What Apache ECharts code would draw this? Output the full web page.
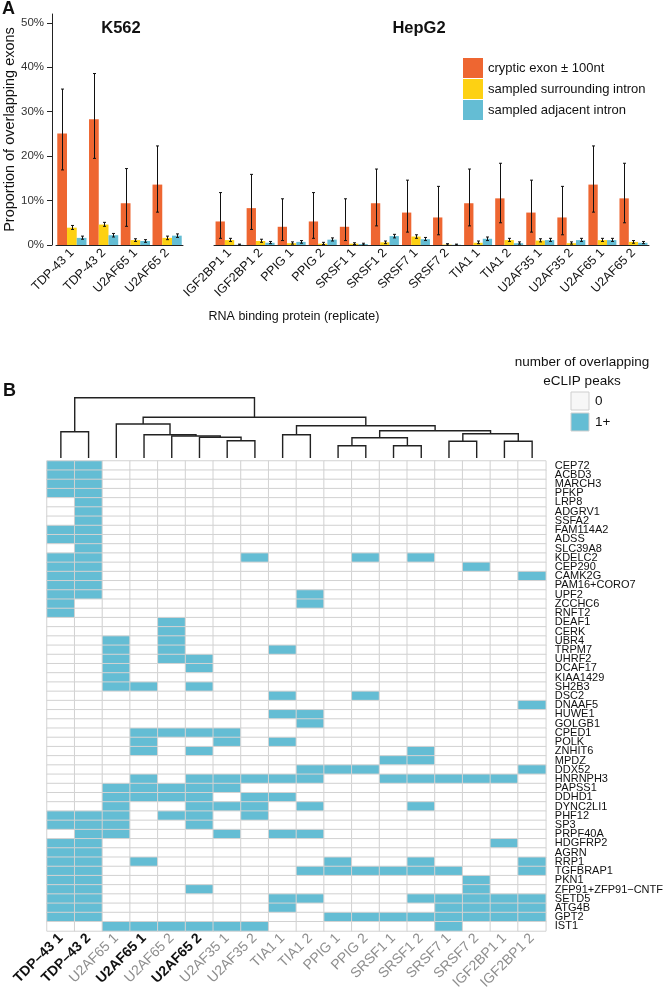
<!DOCTYPE html>
<html>
<head>
<meta charset="utf-8">
<script src="https://cdn.jsdelivr.net/npm/echarts@6/dist/echarts.min.js"></script>
<style>html,body{margin:0;padding:0;background:#fff}#main{width:666px;height:992px}</style>
</head>
<body>
<div id="main"></div>
<script>
// panel A: proportion of cryptic exons overlapping eCLIP peaks (%)
var k562Names = ['TDP-43 1', 'TDP-43 2', 'U2AF65 1', 'U2AF65 2'];
var k562Cryptic = [25.1, 28.3, 9.4, 13.6];
var k562CrypticLo = [16.9, 19.5, 4.2, 7.4];
var k562CrypticHi = [35.1, 38.6, 17.2, 22.3];
var k562Surround = [3.9, 4.6, 1.1, 1.6];
var k562SurroundLo = [3.5, 4.2, 0.8, 1.2];
var k562SurroundHi = [4.4, 5.1, 1.4, 2.0];
var k562Adjacent = [1.6, 2.2, 0.9, 2.1];
var k562AdjacentLo = [1.3, 1.8, 0.6, 1.7];
var k562AdjacentHi = [2.0, 2.6, 1.2, 2.5];

var hepg2Names = ['IGF2BP1 1', 'IGF2BP1 2', 'PPIG 1', 'PPIG 2', 'SRSF1 1', 'SRSF1 2', 'SRSF7 1', 'SRSF7 2',
                  'TIA1 1', 'TIA1 2', 'U2AF35 1', 'U2AF35 2', 'U2AF65 1', 'U2AF65 2'];
var hepg2Cryptic = [5.3, 8.3, 4.1, 5.3, 4.1, 9.4, 7.3, 6.2, 9.4, 10.5, 7.3, 6.2, 13.6, 10.5];
var hepg2CrypticLo = [1.5, 3.5, 1.0, 1.5, 1.0, 4.3, 2.9, 2.3, 4.3, 5.0, 2.9, 2.3, 7.4, 5.0];
var hepg2CrypticHi = [11.8, 15.9, 10.4, 11.8, 10.4, 17.1, 14.6, 13.2, 17.1, 18.4, 14.6, 13.2, 22.3, 18.4];
var hepg2Surround = [1.1, 0.9, 0.4, 0.3, 0.3, 0.6, 1.9, 0.1, 0.5, 1.1, 1.0, 0.4, 1.1, 0.7];
var hepg2SurroundLo = [0.8, 0.6, 0.2, 0.1, 0.1, 0.3, 1.5, 0, 0.3, 0.8, 0.7, 0.2, 0.8, 0.4];
var hepg2SurroundHi = [1.5, 1.3, 0.7, 0.6, 0.5, 0.9, 2.3, 0.3, 0.9, 1.5, 1.4, 0.7, 1.5, 1.0];
var hepg2Adjacent = [0.05, 0.5, 0.7, 1.2, 0.2, 2.0, 1.3, 0.05, 1.4, 0.4, 1.1, 1.1, 1.1, 0.5];
var hepg2AdjacentLo = [0, 0.3, 0.4, 0.9, 0, 1.6, 1.0, 0, 1.0, 0.2, 0.8, 0.8, 0.8, 0.3];
var hepg2AdjacentHi = [0.2, 0.8, 1.0, 1.6, 0.4, 2.4, 1.7, 0.2, 1.8, 0.7, 1.5, 1.5, 1.5, 0.8];

var seriesNames = ['cryptic exon \u00b1 100nt', 'sampled surrounding intron', 'sampled adjacent intron'];
var yTicks = [0, 10, 20, 30, 40, 50];

// panel B: eCLIP peak overlap per gene (row) and experiment (column)
var heatCols = ['TDP\u201343 1', 'TDP\u201343 2', 'U2AF65 1', 'U2AF65 1', 'U2AF65 2', 'U2AF65 2', 'U2AF35 1', 'U2AF35 2',
                'TIA1 1', 'TIA1 2', 'PPIG 1', 'PPIG 2', 'SRSF1 1', 'SRSF1 2', 'SRSF7 1', 'SRSF7 2', 'IGF2BP1 1', 'IGF2BP1 2'];
var heatColCell = ['K562', 'K562', 'HepG2', 'K562', 'HepG2', 'K562', 'HepG2', 'HepG2', 'HepG2',
                   'HepG2', 'HepG2', 'HepG2', 'HepG2', 'HepG2', 'HepG2', 'HepG2', 'HepG2', 'HepG2'];
var heatRows = ['CEP72', 'ACBD3', 'MARCH3', 'PFKP', 'LRP8', 'ADGRV1', 'SSFA2', 'FAM114A2', 'ADSS', 'SLC39A8',
                'KDELC2', 'CEP290', 'CAMK2G', 'PAM16+CORO7', 'UPF2', 'ZCCHC6', 'RNFT2', 'DEAF1', 'CERK', 'UBR4',
                'TRPM7', 'UHRF2', 'DCAF17', 'KIAA1429', 'SH2B3', 'DSC2', 'DNAAF5', 'HUWE1', 'GOLGB1', 'CPED1',
                'POLK', 'ZNHIT6', 'MPDZ', 'DDX52', 'HNRNPH3', 'PAPSS1', 'DDHD1', 'DYNC2LI1', 'PHF12', 'SP3',
                'PRPF40A', 'HDGFRP2', 'AGRN', 'RRP1', 'TGFBRAP1', 'PKN1', 'ZFP91+ZFP91\u2212CNTF', 'SETD5', 'ATG4B', 'GPT2',
                'IST1'];
// columns with 1+ peaks for each row
var heatHits = [
  [0, 1], [0, 1], [0, 1], [0, 1], [1], [1], [1], [0, 1], [0, 1], [1],
  [0, 1, 7, 11, 13], [0, 1, 15], [0, 1, 17], [0, 1], [0, 1, 9], [0, 9], [0], [4], [4], [2, 4],
  [2, 4, 8], [2, 4, 5], [2, 5], [2], [2, 3, 5], [8, 11], [17], [8, 9], [9], [3, 4, 5, 6],
  [3, 6, 8], [3, 5, 13], [12, 13], [9, 10, 11, 17], [3, 5, 6, 7, 8, 9, 12, 13, 14, 15, 16], [2, 3, 4, 5, 6],
  [2, 3, 4, 5, 7, 8], [2, 5, 6, 7, 9, 13], [0, 1, 2, 4, 5, 7], [0, 1, 2, 5],
  [1, 2, 6, 8, 9], [0, 1, 16], [0, 1], [0, 1, 3, 10, 13, 17], [0, 1, 9, 10, 11, 12, 13, 14, 17], [0, 1, 15],
  [0, 1, 5, 15], [0, 1, 8, 9, 13, 14, 15, 16, 17], [0, 1, 8, 14, 15, 16, 17], [0, 1, 10, 11, 12, 13, 14, 15, 16, 17],
  [2, 3, 4, 5, 6, 7, 14]
];
// column dendrogram: [child a, child b, height]; leaves 0-17, merge j is node 18+j
var dendroMerges = [
  [0, 1, 26.3], [6, 7, 17.3], [5, 19, 20.7], [4, 20, 22], [3, 21, 23.3], [2, 22, 34],
  [8, 9, 23.3], [10, 11, 12.3], [12, 13, 12.3], [25, 26, 20.3], [14, 15, 16.7], [16, 17, 16.7],
  [28, 29, 24.3], [27, 30, 27.3], [24, 31, 32.3], [23, 32, 40.7], [18, 33, 60.3]
];

var myChart = echarts.init(document.getElementById('main'));
var FONT = 'Liberation Sans';
var colors = ['#ee6631', '#fdd113', '#64bdd4'];
var heatBlue = '#64bdd4';
var gapK = 0.08, gapH = 0.1;

function errSeries(k, lo, hi, gi, gap) {
    return {
        type: 'custom', xAxisIndex: gi, yAxisIndex: gi, z: 5, silent: true,
        data: lo.map(function(v, i) { return [i, v, hi[i]]; }),
        encode: { x: 0, y: [1, 2] },
        renderItem: function(params, api) {
            var c = api.coord([api.value(0), 0]);
            var band = api.size([1, 0])[0];
            var bw = band * (1 - gap) / 3;
            var cx = Math.round(c[0] + (k - 1) * bw) + 0.5;
            var y1 = api.coord([api.value(0), api.value(1)])[1];
            var y2 = api.coord([api.value(0), api.value(2)])[1];
            var st = { stroke: '#111', lineWidth: 1 };
            return { type: 'group', children: [
                { type: 'line', shape: { x1: cx, y1: y1, x2: cx, y2: y2 }, style: st },
                { type: 'line', shape: { x1: cx - 1.5, y1: y1, x2: cx + 1.5, y2: y1 }, style: st },
                { type: 'line', shape: { x1: cx - 1.5, y1: y2, x2: cx + 1.5, y2: y2 }, style: st }
            ]};
        }
    };
}

function barSeries(k, data, gi, gap) {
    return {
        name: seriesNames[k], type: 'bar', xAxisIndex: gi, yAxisIndex: gi, data: data,
        itemStyle: { color: colors[k] }, barGap: '0%', barCategoryGap: (gap * 100) + '%'
    };
}

var heatData = [];
heatRows.forEach(function(r, ri) {
    for (var c = 0; c < heatCols.length; c++) {
        heatData.push([c, ri, heatHits[ri].indexOf(c) >= 0 ? 1 : 0]);
    }
});

var nodeX = [], nodeH = [];
for (var i = 0; i < heatCols.length; i++) { nodeX[i] = i; nodeH[i] = 0; }
var dendroData = dendroMerges.map(function(m, j) {
    var a = m[0], b = m[1];
    var d = [nodeX[a], nodeX[b], nodeH[a], nodeH[b], m[2]];
    nodeX[heatCols.length + j] = (nodeX[a] + nodeX[b]) / 2;
    nodeH[heatCols.length + j] = m[2];
    return d;
});

var catAxis = function(gi, names) {
    return {
        type: 'category', gridIndex: gi, data: names,
        axisLine: { lineStyle: { color: '#222', width: 1 } },
        axisTick: { alignWithLabel: true, length: 4, lineStyle: { color: '#222' } },
        axisLabel: { rotate: 45, interval: 0, fontSize: 12.5, fontFamily: FONT, color: '#111', margin: 6 }
    };
};

function txt(x, y, s, size, weight, align) {
    return { type: 'text', x: x, y: y, style: {
        text: s, fontSize: size, fontWeight: weight || 'normal', fontFamily: FONT, fill: '#111',
        align: align || 'left', verticalAlign: 'middle', textAlign: align || 'left', textVerticalAlign: 'middle' } };
}

option = {
    animation: false,
    textStyle: { fontFamily: FONT },
    legend: {
        data: seriesNames, orient: 'vertical', left: 463, top: 58, padding: 0,
        itemWidth: 20, itemHeight: 20, itemGap: 1, icon: 'rect',
        textStyle: { fontSize: 13, color: '#111', fontFamily: FONT }
    },
    grid: [
        { left: 56, width: 127, top: 14, height: 231 },
        { left: 214, width: 435, top: 14, height: 231 },
        { left: 47, width: 499, top: 461, height: 471.3 },
        { left: 47, width: 499, top: 397.7, height: 60.3 }
    ],
    xAxis: [
        catAxis(0, k562Names),
        catAxis(1, hepg2Names),
        {
            type: 'category', gridIndex: 2, data: heatCols.map(function(c, i) { return 'c' + i; }),
            axisLine: { show: false }, axisTick: { show: false }, splitLine: { show: false },
            axisLabel: {
                rotate: 45, interval: 0, margin: 5,
                formatter: function(v, i) { return (heatColCell[i] === 'K562' ? '{k|' : '{h|') + heatCols[i] + '}'; },
                rich: {
                    k: { fontSize: 14, fontWeight: 'bold', color: '#111', fontFamily: FONT },
                    h: { fontSize: 14, color: '#8e8e8e', fontFamily: FONT }
                }
            }
        },
        { type: 'value', gridIndex: 3, min: -0.5, max: 17.5, show: false }
    ],
    yAxis: [
        {
            type: 'value', gridIndex: 0, min: 0, max: 52, interval: 10, offset: 4,
            splitLine: { show: false },
            axisLine: { show: true, lineStyle: { color: '#222' } },
            axisTick: { show: true, length: 5, customValues: yTicks, lineStyle: { color: '#222' } },
            axisLabel: { customValues: yTicks, formatter: '{value}%', fontSize: 11.5, color: '#333', margin: 8, fontFamily: FONT },
            name: 'Proportion of overlapping exons', nameLocation: 'middle', nameGap: 27,
            nameTextStyle: { fontSize: 14.5, color: '#111', fontFamily: FONT }
        },
        { type: 'value', gridIndex: 1, min: 0, max: 52, show: false },
        {
            type: 'category', gridIndex: 2, data: heatRows, inverse: true, position: 'right',
            axisLine: { show: false }, axisTick: { show: false }, splitLine: { show: false },
            axisLabel: { interval: 0, fontSize: 11, color: '#111', margin: 9, fontFamily: FONT }
        },
        { type: 'value', gridIndex: 3, min: 0, max: 60.3, show: false }
    ],
    visualMap: {
        type: 'piecewise', show: false, seriesIndex: 12, dimension: 2,
        pieces: [{ value: 0, color: '#ffffff' }, { value: 1, color: heatBlue }]
    },
    series: [
        barSeries(0, k562Cryptic, 0, gapK), barSeries(1, k562Surround, 0, gapK), barSeries(2, k562Adjacent, 0, gapK),
        barSeries(0, hepg2Cryptic, 1, gapH), barSeries(1, hepg2Surround, 1, gapH), barSeries(2, hepg2Adjacent, 1, gapH),
        errSeries(0, k562CrypticLo, k562CrypticHi, 0, gapK),
        errSeries(1, k562SurroundLo, k562SurroundHi, 0, gapK),
        errSeries(2, k562AdjacentLo, k562AdjacentHi, 0, gapK),
        errSeries(0, hepg2CrypticLo, hepg2CrypticHi, 1, gapH),
        errSeries(1, hepg2SurroundLo, hepg2SurroundHi, 1, gapH),
        errSeries(2, hepg2AdjacentLo, hepg2AdjacentHi, 1, gapH),
        {
            type: 'heatmap', xAxisIndex: 2, yAxisIndex: 2, data: heatData,
            itemStyle: { borderColor: '#d2d2d2', borderWidth: 1 }
        },
        {
            type: 'custom', xAxisIndex: 3, yAxisIndex: 3, data: dendroData, silent: true,
            encode: { x: [0, 1], y: [2, 3, 4] },
            renderItem: function(params, api) {
                var a = api.coord([api.value(0), api.value(2)]);
                var b = api.coord([api.value(0), api.value(4)]);
                var c = api.coord([api.value(1), api.value(4)]);
                var d = api.coord([api.value(1), api.value(3)]);
                return { type: 'polyline', shape: { points: [a, b, c, d] },
                         style: { stroke: '#222', lineWidth: 1.4, fill: null } };
            }
        }
    ],
    graphic: [
        txt(2, 9, 'A', 18, 'bold'),
        txt(3, 391, 'B', 18, 'bold'),
        txt(121, 28, 'K562', 16.5, 'bold', 'center'),
        txt(419, 28, 'HepG2', 16.5, 'bold', 'center'),
        txt(294, 317, 'RNA binding protein (replicate)', 12.5, 'normal', 'center'),
        txt(582, 362, 'number of overlapping', 13.5, 'normal', 'center'),
        txt(582, 381, 'eCLIP peaks', 13.5, 'normal', 'center'),
        { type: 'rect', shape: { x: 571, y: 392, width: 18, height: 18 }, style: { fill: '#f7f7f7', stroke: '#cfcfcf', lineWidth: 1 } },
        { type: 'rect', shape: { x: 571, y: 413, width: 18, height: 18 }, style: { fill: heatBlue, stroke: '#cfcfcf', lineWidth: 1 } },
        txt(595, 401, '0', 13.5),
        txt(595, 422, '1+', 13.5)
    ]
};
myChart.setOption(option);
window.onresize = myChart.resize;
</script>
</body>
</html>
